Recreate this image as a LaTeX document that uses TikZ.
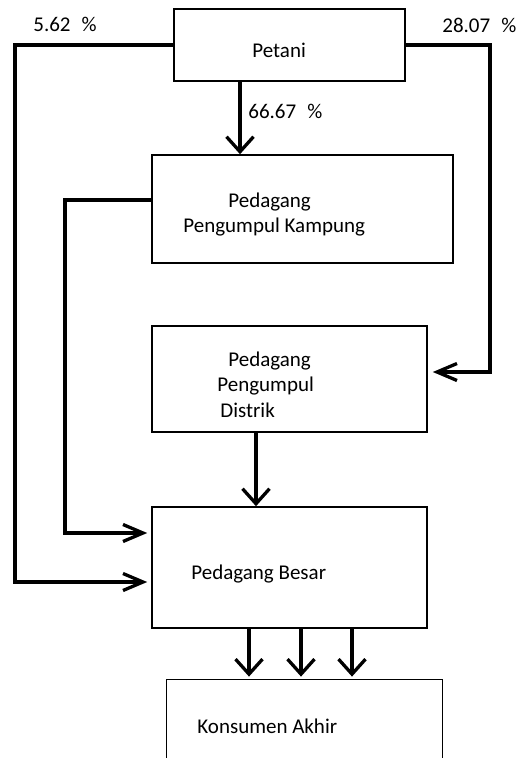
\documentclass[tikz,border=0pt]{standalone}
\usepackage{fontspec}
\setmainfont{Carlito}
\usetikzlibrary{arrows.meta}

\begin{document}
\begin{tikzpicture}[x=0.5pt,y=-0.5pt,
    box/.style={draw, line width=0.8pt, inner sep=0pt},
    lbl/.style={font=\fontsize{10.5}{12.6}\selectfont, inner sep=0pt, anchor=base west},
    flowh/.style={line width=1.65pt, -{Straight Barb[length=10pt,width=8.5pt]}},
    flowv/.style={line width=1.65pt, -{Straight Barb[length=7.5pt,width=13.5pt]}}]

    \useasboundingbox (0,0) rectangle (520,758);

    % Draw the boxes of the marketing channel
    \node[box, minimum width=115.5pt, minimum height=36pt] (petani) at (289.5,45) {};
    \node[box, minimum width=150.5pt, minimum height=54pt] (ppk) at (302.5,209) {};
    \node[box, minimum width=137.5pt, minimum height=53pt] (distrik) at (289.5,379) {};
    \node[box, minimum width=137.5pt, minimum height=60.5pt] (besar) at (289.5,567.5) {};
    % last box runs off the page, so only three sides
    \node[inner sep=0pt, minimum width=137.5pt, minimum height=39pt] (konsumen) at (304.5,719) {};
    \draw[line width=0.8pt] (konsumen.south west) -- (konsumen.north west) -- (konsumen.north east) -- (konsumen.south east);

    % Texts
    \foreach \n/\x/\y/\t in {tpetani/252/58/Petani,
                             tppka/228/208/Pedagang, tppkb/183/233/Pengumpul Kampung,
                             tdisa/228/366/Pedagang, tdisb/217/391/Pengumpul, tdisc/220/417/Distrik,
                             tbesar/191/579/Pedagang Besar,
                             tkons/197/733/Konsumen Akhir} {
        \node[lbl] (\n) at (\x,\y) {\t};
    }

    % Shares
    \foreach \n/\x/\y/\t in {pkiri/33/32/5.62, pkanan/442/33/28.07, ptengah/248/119/66.67} {
        \node[lbl] (\n) at (\x,\y) {\t\hspace{5.5pt}\%};
    }

    % Corner points of the long connectors
    \coordinate (outerL) at (15,582);
    \coordinate (outerR) at (490,372);
    \coordinate (innerTop) at (65,200);
    \coordinate (innerL) at (65,533);

    % Draw the connectors
    \draw[flowh, shorten >=2pt] (petani.west) -| (outerL) -- (outerL -| besar.west);
    \draw[flowh, shorten >=2.5pt] (petani.east) -| (outerR) -- (outerR -| distrik.east);
    \draw[flowh, shorten >=2pt] (ppk.west |- innerTop) -- (innerTop) -- (innerL) -- (innerL -| besar.west);
    \draw[flowv] (petani.south -| 240,0) -- (ppk.north -| 240,0);
    \draw[flowv] (distrik.south -| 256,0) -- (besar.north -| 256,0);
    \foreach \x in {249,301,352} {
        \draw[flowv, shorten >=1.5pt] (besar.south -| \x,0) -- (konsumen.north -| \x,0);
    }

\end{tikzpicture}
\end{document}
